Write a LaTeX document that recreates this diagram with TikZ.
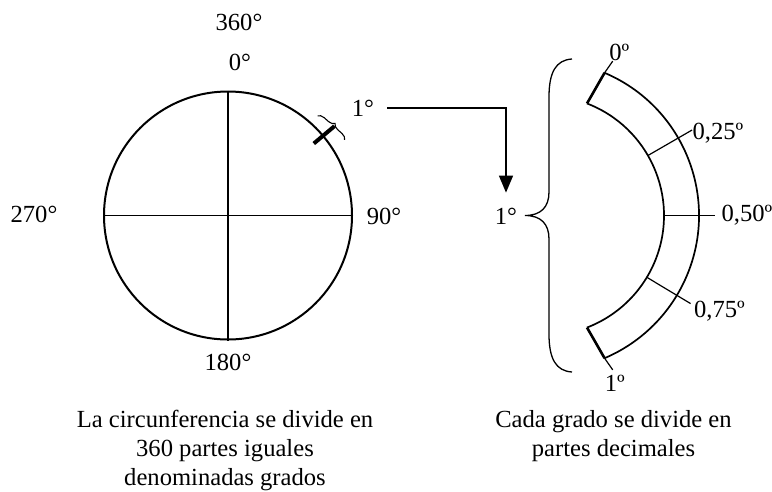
\documentclass[tikz,border=0pt]{standalone}
\usepackage{fontspec}
\setmainfont{Liberation Serif}
\usetikzlibrary{positioning,decorations.pathreplacing,arrows.meta}

\begin{document}
\begin{tikzpicture}[x=1pt,y=1pt,font=\fontsize{24.6}{30}\selectfont,
  lbl/.style={inner sep=0pt},
  caption/.style={inner sep=0pt, anchor=base},
  axisline/.style={line width=1.2pt},
  bandline/.style={line width=1.7pt},
  bandend/.style={line width=2.6pt},
  smallbrace/.style={line width=1.1pt, decorate, decoration={brace, amplitude=6pt}},
  flow/.style={line width=1.4pt, -{Triangle[width=14pt,length=17pt]}}]
  \useasboundingbox (0,0) rectangle (772,-491);
  % the whole circle, split in four quadrants
  \node[circle, draw, line width=2pt, inner sep=0pt, minimum size=248pt] (circ) at (228,-215.5) {};
  \draw[axisline] (circ.north) -- (circ.south);
  \draw[axisline] (circ.west) -- (circ.east);
  \node[lbl] (l360) at (239,-22) {360°};
  \node[lbl] (l0) at (240,-62) {0°};
  \node[lbl] (l90) at (384,-216) {90°};
  \node[lbl] (l270) at (34,-214) {270°};
  \node[lbl] (l180) at (228,-362) {180°};
  % one degree marked on the circle
  \draw[line width=4pt] ([shift={(40:-13)}]circ.40) -- ([shift={(40:14)}]circ.40);
  \draw[smallbrace] ([shift={(48:9)}]circ.48) -- ([shift={(33:14)}]circ.33);
  \node[lbl] (l1) at (363,-108) {1°};
  % arrow down to the enlarged degree
  \node[lbl] (mid1) at (506,-216) {1°};
  \draw[flow] ([xshift=13pt]l1.east) -| ([yshift=15pt]mid1.north);
  % brace over the enlarged degree
  \coordinate (br) at (572,-59);
  \draw[line width=1.3pt] (br) .. controls (556,-60) and (549,-72) .. (549,-97)
    -- (549,-192) .. controls (549,-207) and (541,-215.5) .. (525,-215.5)
    .. controls (541,-215.5) and (549,-224) .. (549,-239)
    -- (549,-334) .. controls (549,-359) and (556,-371) .. (572,-372);
  % one degree enlarged, divided in decimals
  \coordinate (bc) at (544,-215.5);
  \draw[bandline] ([shift={(69:120)}]bc) arc[start angle=69, end angle=-69, radius=120];
  \draw[bandline] ([shift={(67:155)}]bc) arc[start angle=67, end angle=-67, radius=155];
  \draw[bandend] ([shift={(69:120)}]bc) -- ([shift={(67:155)}]bc);
  \draw[bandend] ([shift={(-69:120)}]bc) -- ([shift={(-67:155)}]bc);
  \draw[axisline] ([shift={(67:155)}]bc) -- ([shift={(66:169)}]bc)
    node[lbl, anchor=south west, xshift=-4pt] (d0) {0º};
  \draw[axisline] ([shift={(30:120)}]bc) -- ([shift={(30:171)}]bc)
    node[lbl, anchor=west, yshift=-3pt] (d25) {0,25º};
  \draw[axisline] ([shift={(0:120)}]bc) -- ([shift={(0:171)}]bc)
    node[lbl, anchor=west, xshift=6pt] (d50) {0,50º};
  \draw[axisline] ([shift={(-31:120)}]bc) -- ([shift={(-31:171)}]bc)
    node[lbl, anchor=west, xshift=3pt, yshift=-8pt] (d75) {0,75º};
  \draw[axisline] ([shift={(-67:155)}]bc) -- ([shift={(-66:169)}]bc)
    node[lbl, anchor=north, xshift=2pt, yshift=-5pt] (d1) {1º};
  % captions
  \node[caption] (capL1) at (225,-427) {La circunferencia se divide en};
  \node[caption] (capL2) at ([yshift=-29pt]capL1.base) {360 partes iguales};
  \node[caption] (capL3) at ([yshift=-29pt]capL2.base) {denominadas grados};
  \node[caption] (capR1) at (613.5,-427) {Cada grado se divide en};
  \node[caption] (capR2) at ([yshift=-29pt]capR1.base) {partes decimales};
\end{tikzpicture}
\end{document}
